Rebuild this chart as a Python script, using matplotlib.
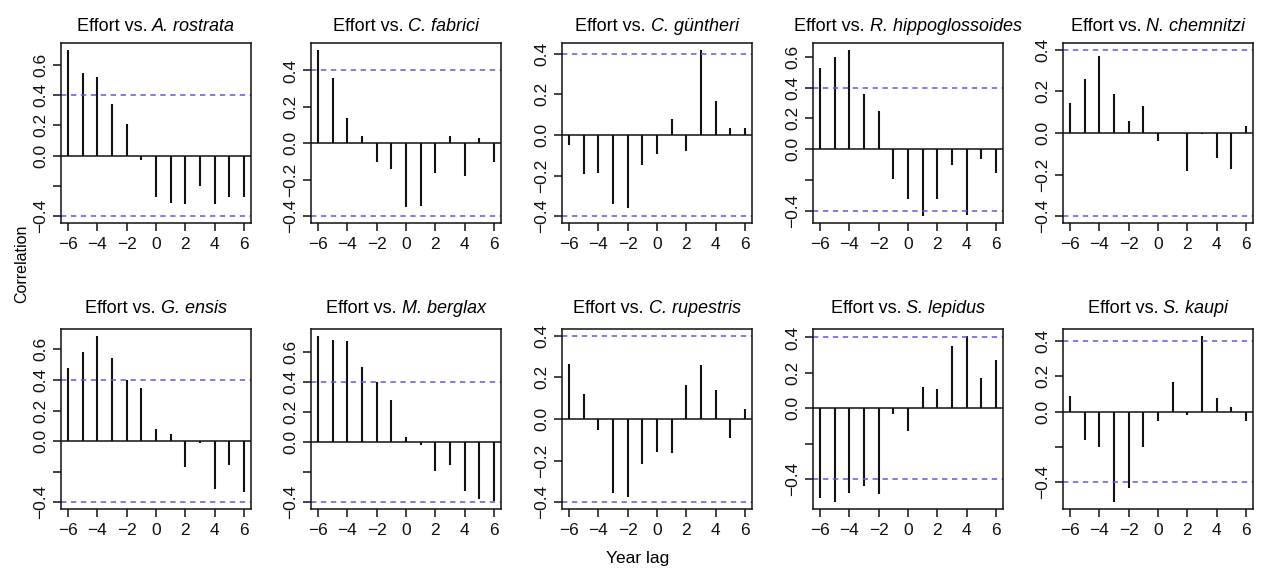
import matplotlib
matplotlib.use("Agg")
import matplotlib.pyplot as plt
import numpy as np

plt.rcParams['font.family'] = ['Liberation Sans', 'DejaVu Sans']

lags = np.arange(-6, 7)
clim = 0.4

species = ["A. rostrata", "C. fabrici", "C. güntheri", "R. hippoglossoides", "N. chemnitzi",
           "G. ensis", "M. berglax", "C. rupestris", "S. lepidus", "S. kaupi"]

ccf_rostrata = [0.70, 0.545, 0.52, 0.34, 0.21, -0.03, -0.27, -0.31, -0.32, -0.20, -0.32, -0.27, -0.27]
ccf_fabrici = [0.514, 0.36, 0.14, 0.04, -0.10, -0.14, -0.35, -0.345, -0.165, 0.04, -0.18, 0.03, -0.10]
ccf_guntheri = [-0.05, -0.19, -0.185, -0.34, -0.36, -0.145, -0.095, 0.08, -0.08, 0.42, 0.165, 0.035, 0.035]
ccf_hippo = [0.527, 0.60, 0.645, 0.36, 0.25, -0.19, -0.325, -0.434, -0.325, -0.10, -0.425, -0.06, -0.155]
ccf_chemnitzi = [0.145, 0.26, 0.37, 0.185, 0.06, 0.13, -0.04, 0.002, -0.18, -0.005, -0.12, -0.175, 0.035]
ccf_ensis = [0.477, 0.58, 0.69, 0.543, 0.40, 0.347, 0.08, 0.048, -0.167, -0.015, -0.312, -0.154, -0.334]
ccf_berglax = [0.707, 0.68, 0.67, 0.496, 0.396, 0.278, 0.033, -0.02, -0.19, -0.155, -0.322, -0.378, -0.39]
ccf_rupestris = [0.266, 0.12, -0.052, -0.355, -0.376, -0.215, -0.156, -0.165, 0.165, 0.258, 0.137, -0.092, 0.048]
ccf_lepidus = [-0.505, -0.53, -0.477, -0.44, -0.482, -0.034, -0.13, 0.12, 0.107, 0.35, 0.41, 0.172, 0.27]
ccf_kaupi = [0.087, -0.16, -0.198, -0.513, -0.434, -0.198, -0.055, 0.17, -0.02, 0.43, 0.075, 0.028, -0.055]

series = [ccf_rostrata, ccf_fabrici, ccf_guntheri, ccf_hippo, ccf_chemnitzi,
          ccf_ensis, ccf_berglax, ccf_rupestris, ccf_lepidus, ccf_kaupi]

# R drops the -0.2 label where it would overlap its neighbours
drop_label = [True, False, False, True, False, True, True, False, True, True]

W, H = 1264, 571
fig = plt.figure(figsize=(W / 100, H / 100), dpi=100)
renderer = fig.canvas.get_renderer()

lefts = [61, 311, 562, 813, 1063]
tops = [43, 329]
title_base = [31, 313]
aw, ah = 190, 180
tsize = 13

for i, (name, vals) in enumerate(zip(species, series)):
    r, c = divmod(i, 5)
    ax = fig.add_axes([lefts[c] / W, 1 - (tops[r] + ah) / H, aw / W, ah / H])
    vals = np.array(vals)
    ax.vlines(lags, 0, vals, color='#111111', lw=1.5)
    ax.axhline(0, color='#111111', lw=1.1)
    for h in (clim, -clim):
        ax.axhline(h, color='#5a5ae0', lw=1.1, ls=(0, (3.5, 3)))
    lo = min(vals.min(), -clim)
    hi = max(vals.max(), clim)
    pad = 0.04 * (hi - lo)
    ax.set_ylim(lo - pad, hi + pad)
    ax.set_xlim(-6.48, 6.48)
    ax.set_xticks(np.arange(-6, 7, 2))
    yt = np.round(np.arange(-0.4, hi + 1e-9, 0.2), 1)
    ax.set_yticks(yt)
    labels = ['%.1f' % v if abs(v) > 1e-9 else '0.0' for v in yt]
    labels = [l.replace('-', '\u2212') for l in labels]
    if drop_label[i]:
        labels = ['' if abs(v + 0.2) < 1e-9 else l for v, l in zip(yt, labels)]
    ax.set_yticklabels(labels, rotation=90, va='center')
    ax.tick_params(direction='out', length=6, width=1.1, labelsize=12.5,
                   colors='#111111')
    ax.tick_params(axis='x', pad=4)
    ax.tick_params(axis='y', pad=3)
    for s in ax.spines.values():
        s.set_linewidth(1.1)
        s.set_color('#111111')

    # title: plain prefix + italic species, centred over the axes
    cx = lefts[c] + aw / 2
    ty = 1 - title_base[r] / H
    t1 = fig.text(0, ty, "Effort vs. ", fontsize=tsize, va='baseline')
    t2 = fig.text(0, ty, name, fontsize=tsize, style='italic', va='baseline')
    w1 = t1.get_window_extent(renderer).width
    w2 = t2.get_window_extent(renderer).width
    x0 = cx - (w1 + w2) / 2
    t1.set_x(x0 / W)
    t2.set_x((x0 + w1) / W)

fig.text(22 / W, 1 - 264 / H, "Correlation", rotation=90, ha='center', va='center', fontsize=11.5)
fig.text(638 / W, 1 - 559 / H, "Year lag", ha='center', va='center', fontsize=12.5)

fig.savefig("out.png", dpi=100, facecolor='white')
